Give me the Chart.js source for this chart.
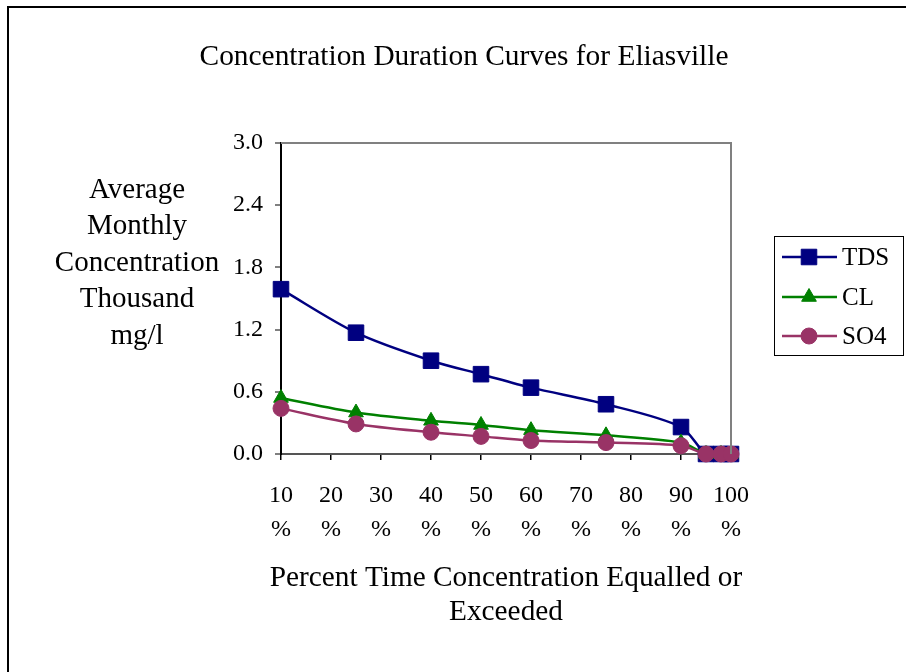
<!DOCTYPE html>
<html>
<head>
<meta charset="utf-8">
<script src="https://cdn.jsdelivr.net/npm/chart.js@4"></script>
<style>
  html, body { margin: 0; padding: 0; background: #fff; }
  #wrap { width: 906px; height: 672px; position: relative; }
</style>
</head>
<body>
<div id="wrap"><canvas id="myChart" width="906" height="672"></canvas></div>
<script>
// percent of time (x) and concentrations in thousand mg/l
const percentTime = [10, 25, 40, 50, 60, 75, 90, 95, 98, 100];
const tdsValues = [1.59, 1.17, 0.90, 0.77, 0.64, 0.48, 0.26, 0, 0, 0];
const clValues  = [0.54, 0.40, 0.32, 0.28, 0.23, 0.18, 0.11, 0, 0, 0];
const so4Values = [0.44, 0.29, 0.21, 0.17, 0.13, 0.11, 0.08, 0, 0, 0];
const xTicks = [10, 20, 30, 40, 50, 60, 70, 80, 90, 100];
const yTicks = [0, 0.6, 1.2, 1.8, 2.4, 3.0];
const seriesNames = ['TDS', 'CL', 'SO4'];

const chartTitle = 'Concentration Duration Curves for Eliasville';
const yTitle = ['Average', 'Monthly', 'Concentration', 'Thousand', 'mg/l'];
const xTitle = ['Percent Time Concentration Equalled or', 'Exceeded'];

const serif = "'Liberation Serif', 'Times New Roman', serif";

function toPoints(vals) {
  return percentTime.map((x, i) => ({ x: x, y: vals[i] }));
}

// text, frame and legend drawn by hand
const extras = {
  id: 'extras',
  afterDraw(chart) {
    const ctx = chart.ctx;
    const area = chart.chartArea;
    ctx.save();
    // outer frame (top + left only, rest runs off the picture)
    ctx.strokeStyle = '#000';
    ctx.lineWidth = 2;
    ctx.beginPath();
    ctx.moveTo(8, 700);
    ctx.lineTo(8, 7);
    ctx.lineTo(910, 7);
    ctx.stroke();

    // plot frame top/right
    ctx.strokeStyle = '#808080';
    ctx.lineWidth = 2;
    ctx.beginPath();
    ctx.moveTo(area.left, area.top);
    ctx.lineTo(area.right, area.top);
    ctx.lineTo(area.right, area.bottom);
    ctx.stroke();

    ctx.fillStyle = '#000';
    ctx.textAlign = 'center';
    ctx.textBaseline = 'middle';
    ctx.font = '29.4px ' + serif;
    ctx.fillText(chartTitle, 464, 57);

    ctx.font = '29px ' + serif;
    yTitle.forEach((t, i) => ctx.fillText(t, 137, 190 + i * 36.5));

    ctx.font = '29.3px ' + serif;
    const xc = (area.left + area.right) / 2;
    xTitle.forEach((t, i) => ctx.fillText(t, xc, 578 + i * 34));

    // legend
    ctx.strokeStyle = '#000';
    ctx.lineWidth = 1;
    ctx.strokeRect(774.5, 236.5, 129, 119);
    const ys = [257, 297, 336];
    chart.data.datasets.forEach((ds, i) => {
      const y = ys[i];
      ctx.strokeStyle = ds.borderColor;
      ctx.lineWidth = 2.5;
      ctx.beginPath();
      ctx.moveTo(782, y);
      ctx.lineTo(837, y);
      ctx.stroke();
      ctx.fillStyle = ds.pointBackgroundColor;
      ctx.strokeStyle = ds.pointBorderColor;
      ctx.lineWidth = 1;
      Chart.helpers.drawPoint(ctx, {
        pointStyle: ds.pointStyle,
        radius: ds.pointRadius,
        borderWidth: 1
      }, 809, y);
      ctx.fillStyle = '#000';
      ctx.textAlign = 'left';
      ctx.font = '25px ' + serif;
      ctx.fillText(ds.label, 842, y + 1);
    });
    ctx.restore();
  }
};

function series(label, vals, color, style, r, order) {
  return {
    label: label,
    data: toPoints(vals),
    borderColor: color,
    backgroundColor: color,
    pointBackgroundColor: color,
    pointBorderColor: color,
    pointStyle: style,
    pointRadius: r,
    pointBorderWidth: 1,
    borderWidth: 2.5,
    tension: 0.3,
    clip: false,
    order: order
  };
}

const ctx = document.getElementById('myChart').getContext('2d');
const myChart = new Chart(ctx, {
  type: 'line',
  data: {
    datasets: [
      series(seriesNames[0], tdsValues, '#000080', 'rect', 11, 3),
      series(seriesNames[1], clValues, '#008000', 'triangle', 8.5, 2),
      series(seriesNames[2], so4Values, '#993366', 'circle', 8, 1)
    ]
  },
  options: {
    responsive: false,
    animation: false,
    layout: { padding: { left: 180, right: 175, top: 143, bottom: 43 } },
    plugins: {
      legend: { display: false },
      title: { display: false },
      tooltip: { enabled: false }
    },
    scales: {
      x: {
        type: 'linear',
        min: 10,
        max: 100,
        afterBuildTicks(scale) {
          scale.ticks = xTicks.map(v => ({ value: v }));
        },
        afterFit(scale) { scale.height = 175; },
        ticks: {
          color: '#000',
          padding: 18,
          maxRotation: 0,
          autoSkip: false,
          font: { family: serif, size: 24, lineHeight: 1.45 },
          callback: v => [String(v), '%']
        },
        grid: { drawOnChartArea: false, tickLength: 6, color: '#000', lineWidth: 1.5 },
        border: { color: '#555', width: 2 },
        title: { display: false }
      },
      y: {
        min: 0,
        max: 3,
        afterFit(scale) { scale.width = 101; },
        afterBuildTicks(scale) {
          scale.ticks = yTicks.map(v => ({ value: v }));
        },
        ticks: {
          color: '#000',
          padding: 12,
          font: { family: serif, size: 24 },
          callback: v => Number(v).toFixed(1)
        },
        grid: { drawOnChartArea: false, tickLength: 6, color: '#808080', lineWidth: 2 },
        border: { color: '#000', width: 2 }
      }
    }
  },
  plugins: [extras]
});
</script>
</body>
</html>
